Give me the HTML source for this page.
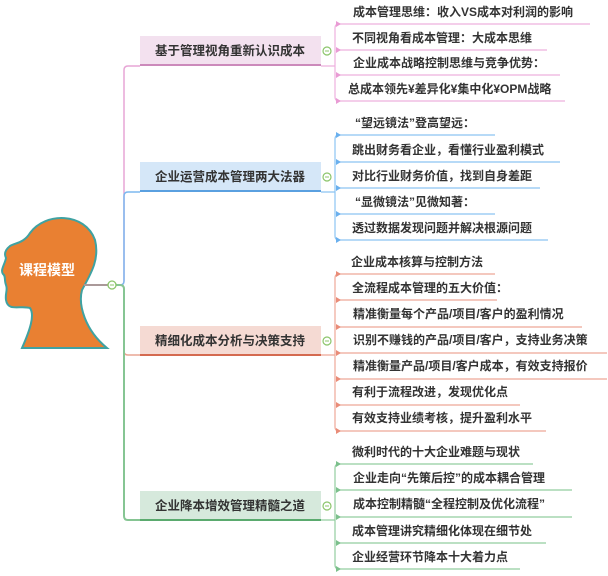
<!DOCTYPE html>
<html><head><meta charset="utf-8"><style>
html,body{margin:0;padding:0;background:#fff;}
svg{display:block;}
text{font-family:"Liberation Sans","Noto Sans CJK SC",sans-serif;font-weight:bold;fill:#333;font-size:12px;}
.b{font-size:12.5px;}
</style></head><body>
<svg width="608" height="576" viewBox="0 0 608 576" xmlns="http://www.w3.org/2000/svg">
<!-- head -->
<path d="M30,233 C45,212 85,212 95,240 C100,260 90,275 82,290 C78,305 85,330 107,348 L22,348 C30,330 35,315 30,308 C20,305 8,312 6,300 C5,293 8,290 6,285 C4,280 6,276 3,274 C0,270 5,264 6,258 C4,254 5,250 10,246 C15,243 24,243 30,233 Z" fill="#e98032" stroke="#3fa2a2" stroke-width="2"/>
<text x="47" y="275" text-anchor="middle" style="fill:#fff;font-size:14px">课程模型</text>
<!-- trunk -->
<line x1="84" y1="285" x2="112" y2="285" stroke="#a99" stroke-width="2"/>
<path d="M116,285 H120 Q124,285 124,281 V70 Q124,66 128,66 H140" fill="none" stroke="#e7a6d6" stroke-width="1.5"/>
<path d="M116,285 H120 Q124,285 124,281 V196 Q124,192 128,192 H140" fill="none" stroke="#7db8ef" stroke-width="1.5"/>
<path d="M116,285 H120 Q124,285 124,289 V351 Q124,355 128,355 H140" fill="none" stroke="#e9a593" stroke-width="1.5"/>
<path d="M116,285 H120 Q124,285 124,289 V516 Q124,520 128,520 H140" fill="none" stroke="#86c593" stroke-width="2"/>
<circle cx="112" cy="285" r="4" fill="#fff" stroke="#8bc56a" stroke-width="1.3"/><line x1="110" y1="285" x2="114" y2="285" stroke="#8bc56a"/>
<!-- boxes -->
<rect x="140" y="36" width="181" height="28" fill="#f3e1ef"/><rect x="140" y="64" width="181" height="2" fill="#cc8abb"/>
<text class="b" x="230" y="55" text-anchor="middle">基于管理视角重新认识成本</text>
<rect x="140" y="162" width="181" height="28" fill="#d5e7f8"/><rect x="140" y="190" width="181" height="2" fill="#5aa0e0"/>
<text class="b" x="230" y="181" text-anchor="middle">企业运营成本管理两大法器</text>
<rect x="140" y="326" width="181" height="28" fill="#f5dad3"/><rect x="140" y="354" width="181" height="2" fill="#d46a50"/>
<text class="b" x="230" y="345" text-anchor="middle">精细化成本分析与决策支持</text>
<rect x="140" y="491" width="181" height="28" fill="#d6e9dc"/><rect x="140" y="519" width="181" height="2" fill="#5aaa6e"/>
<text class="b" x="230" y="510" text-anchor="middle">企业降本增效管理精髓之道</text>
<!-- collapse circles -->
<g fill="#fff" stroke="#8bc56a" stroke-width="1.2">
<circle cx="327" cy="51" r="4"/><circle cx="327" cy="177" r="4"/><circle cx="327" cy="341" r="4"/><circle cx="327" cy="506" r="4"/>
</g>
<g stroke="#8bc56a"><line x1="325" y1="51" x2="329" y2="51"/><line x1="325" y1="177" x2="329" y2="177"/><line x1="325" y1="341" x2="329" y2="341"/><line x1="325" y1="506" x2="329" y2="506"/></g>
<!-- group 1 -->
<g fill="none" stroke="#eeb0de" stroke-width="1.2">
<path d="M321,66 H335 M339,24 Q335,24 335,28 V97 Q335,101 339,101"/>
<line x1="336" y1="24" x2="590" y2="24"/><line x1="336" y1="50" x2="547" y2="50"/><line x1="336" y1="75" x2="560" y2="75"/><line x1="336" y1="101" x2="565" y2="101"/>
</g>
<g fill="#e99bd4"><path d="M336,21 l5,3 l-5,3z"/><path d="M336,47 l5,3 l-5,3z"/><path d="M336,72 l5,3 l-5,3z"/><path d="M336,98 l5,3 l-5,3z"/></g>
<text x="353" y="16">成本管理思维：收入VS成本对利润的影响</text>
<text x="352" y="42">不同视角看成本管理：大成本思维</text>
<text x="353" y="67">企业成本战略控制思维与竞争优势：</text>
<text x="348" y="93">总成本领先¥差异化¥集中化¥OPM战略</text>
<!-- group 2 -->
<g fill="none" stroke="#8cc4f2" stroke-width="1.2">
<path d="M321,192 H335 M339,135 Q335,135 335,139 V236 Q335,240 339,240"/>
<line x1="336" y1="135" x2="495" y2="135"/><line x1="336" y1="162" x2="560" y2="162"/><line x1="336" y1="188" x2="540" y2="188"/><line x1="336" y1="214" x2="495" y2="214"/><line x1="336" y1="240" x2="548" y2="240"/>
</g>
<g fill="#6ab0ee"><path d="M336,132 l5,3 l-5,3z"/><path d="M336,159 l5,3 l-5,3z"/><path d="M336,185 l5,3 l-5,3z"/><path d="M336,211 l5,3 l-5,3z"/><path d="M336,237 l5,3 l-5,3z"/></g>
<text x="355" y="127">“望远镜法”登高望远：</text>
<text x="352" y="154">跳出财务看企业，看懂行业盈利模式</text>
<text x="352" y="180">对比行业财务价值，找到自身差距</text>
<text x="355" y="206">“显微镜法”见微知著：</text>
<text x="352" y="232">透过数据发现问题并解决根源问题</text>
<!-- group 3 -->
<g fill="none" stroke="#eea898" stroke-width="1.2">
<path d="M321,355 H335 M339,274 Q335,274 335,278 V427 Q335,431 339,431"/>
<line x1="336" y1="274" x2="495" y2="274"/><line x1="336" y1="300" x2="497" y2="300"/><line x1="336" y1="327" x2="582" y2="327"/><line x1="336" y1="353" x2="607" y2="353"/><line x1="336" y1="379" x2="607" y2="379"/><line x1="336" y1="405" x2="520" y2="405"/><line x1="336" y1="431" x2="546" y2="431"/>
</g>
<g fill="#e98c78"><path d="M336,271 l5,3 l-5,3z"/><path d="M336,297 l5,3 l-5,3z"/><path d="M336,324 l5,3 l-5,3z"/><path d="M336,350 l5,3 l-5,3z"/><path d="M336,376 l5,3 l-5,3z"/><path d="M336,402 l5,3 l-5,3z"/><path d="M336,428 l5,3 l-5,3z"/></g>
<text x="351" y="266">企业成本核算与控制方法</text>
<text x="352" y="292">全流程成本管理的五大价值：</text>
<text x="353" y="318">精准衡量每个产品/项目/客户的盈利情况</text>
<text x="353" y="344">识别不赚钱的产品/项目/客户，支持业务决策</text>
<text x="353" y="370">精准衡量产品/项目/客户成本，有效支持报价</text>
<text x="352" y="396">有利于流程改进，发现优化点</text>
<text x="352" y="422">有效支持业绩考核，提升盈利水平</text>
<!-- group 4 -->
<g fill="none" stroke="#92cd9f" stroke-width="1.2">
<path d="M321,520 H335 M339,464 Q335,464 335,468 V565 Q335,569 339,569"/>
<line x1="336" y1="464" x2="533" y2="464"/><line x1="336" y1="490" x2="572" y2="490"/><line x1="336" y1="517" x2="572" y2="517"/><line x1="336" y1="543" x2="546" y2="543"/><line x1="336" y1="569" x2="520" y2="569"/>
</g>
<g fill="#7cc08c"><path d="M336,461 l5,3 l-5,3z"/><path d="M336,487 l5,3 l-5,3z"/><path d="M336,514 l5,3 l-5,3z"/><path d="M336,540 l5,3 l-5,3z"/><path d="M336,566 l5,3 l-5,3z"/></g>
<text x="352" y="456">微利时代的十大企业难题与现状</text>
<text x="353" y="482">企业走向“先策后控”的成本耦合管理</text>
<text x="353" y="508">成本控制精髓“全程控制及优化流程”</text>
<text x="352" y="535">成本管理讲究精细化体现在细节处</text>
<text x="352" y="561">企业经营环节降本十大着力点</text>
</svg>
</body></html>
